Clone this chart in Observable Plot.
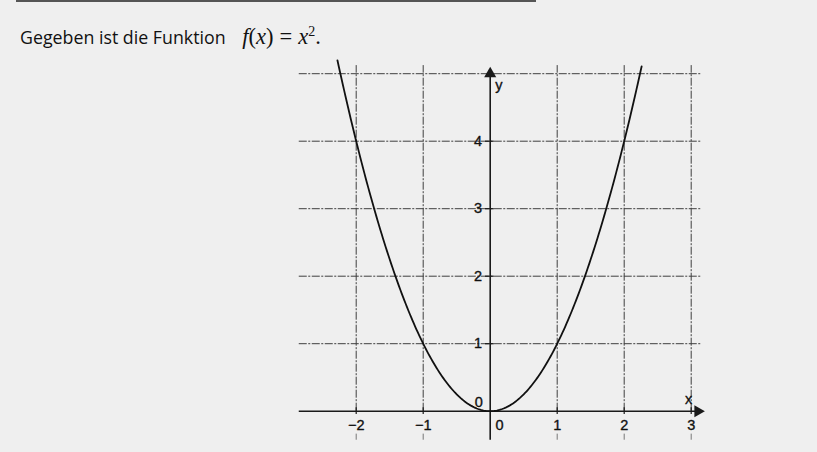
<!DOCTYPE html>
<html>
<head>
<meta charset="utf-8">
<script src="https://cdn.jsdelivr.net/npm/d3@7"></script>
<script src="https://cdn.jsdelivr.net/npm/@observablehq/plot@0.6"></script>
<style>
  html, body { margin: 0; padding: 0; background: #efefef; }
  #wrap { position: relative; width: 817px; height: 452px; overflow: hidden; background: #efefef; }
  #topline { position: absolute; left: 16px; top: 0; width: 520px; height: 2px; background: #555; }
  #title { height: 55px; box-sizing: border-box; padding-left: 20px; padding-top: 18px; font-family: "Open Sans", sans-serif; font-size: 17.8px; color: #111; white-space: nowrap; line-height: 26px; }
  #title .m { font-family: "Liberation Serif", "DejaVu Serif", serif; font-style: italic; font-size: 22.5px; margin-left: 12px; }
  #title .n { font-style: normal; }
  #title .eq { font-style: normal; padding: 0 6px; }
  #chart svg text { font-size: 14.5px; font-family: "Liberation Sans", Arial, sans-serif; }
</style>
</head>
<body>
<div id="wrap">
  <div id="topline"></div>
  <div id="title">Gegeben ist die Funktion <span class="m">f<span class="n">(</span>x<span class="n">)</span><span class="eq">=</span>x<sup style="font-size:14px;font-style:normal;">2</sup><span class="n">.</span></span></div>
  <div id="chart"></div>
</div>
<script>
// Function plotted: f(x) = x^2
const f = x => x * x;
const curveX = d3.range(-2.28, 2.2601, 0.02);
const xGrid = [-2, -1, 1, 2, 3];
const yGrid = [1, 2, 3, 4, 5];
const xTickLabels = [-2, -1, 1, 2, 3];
const yTickLabels = [1, 2, 3, 4];

const curve = curveX.map(x => ({x, y: f(x)}));
const gridColor = "#3f3f3f";
const txt = {fill: "#111", stroke: "#111", strokeWidth: 0.35};

const chart = Plot.plot({
  width: 817,
  height: 397,
  margin: 0,
  style: {background: "transparent", fontSize: "14.5px"},
  x: {domain: [-3, 3.3], range: [288.7, 710.8], axis: null},
  y: {domain: [-0.5, 5.2], range: [389.45, 4.7], axis: null},
  marks: [
    Plot.ruleY(yGrid, {y: d => d, x1: -2.85, x2: 3.15, stroke: gridColor, strokeWidth: 1, strokeDasharray: "8,1.5,2,1.5"}),
    Plot.ruleX(xGrid, {x: d => d, y1: 0, y2: 5.12, stroke: gridColor, strokeWidth: 1, strokeDasharray: "8,1.5,2,1.5"}),
    Plot.ruleX(xGrid, {x: d => d, y1: -0.34, y2: -0.43, stroke: "#777", strokeWidth: 1}),
    Plot.ruleY([0], {x1: -2.85, x2: 3.12, stroke: "#1a1a1a", strokeWidth: 1.6}),
    Plot.ruleX([0], {y1: -0.43, y2: 5.0, stroke: "#1a1a1a", strokeWidth: 1.6}),
    Plot.ruleY(yTickLabels, {y: d => d, x1: -0.07, x2: 0.06, stroke: "#1a1a1a", strokeWidth: 1.2}),
    Plot.ruleX(xTickLabels, {x: d => d, y1: -0.05, y2: 0.05, stroke: "#1a1a1a", strokeWidth: 1.2}),
    Plot.dot([{x: 0, y: 5.0}], {x: "x", y: "y", symbol: "triangle", r: 4.5, fill: "#1a1a1a", stroke: "none"}),
    Plot.dot([{x: 3.1, y: 0}], {x: "x", y: "y", symbol: "triangle", r: 4.5, fill: "#1a1a1a", stroke: "none", rotate: 90}),
    Plot.line(curve, {x: "x", y: "y", stroke: "#111", strokeWidth: 1.8}),
    Plot.text(xTickLabels, {x: d => d, y: -0.21, text: d => d < 0 ? "\u2212" + Math.abs(d) : String(d), ...txt}),
    Plot.text(["0"], {x: 0.14, y: -0.21, text: d => d, ...txt}),
    Plot.text(yTickLabels, {x: 0, y: d => d, dx: -8, textAnchor: "end", text: d => String(d), ...txt}),
    Plot.text(["0"], {x: -0.17, y: 0.13, text: d => d, ...txt}),
    Plot.text(["y"], {x: 0.13, y: 4.83, text: d => d, ...txt}),
    Plot.text(["x"], {x: 2.96, y: 0.17, text: d => d, ...txt})
  ]
});
document.getElementById("chart").appendChild(chart);
</script>
</body>
</html>
